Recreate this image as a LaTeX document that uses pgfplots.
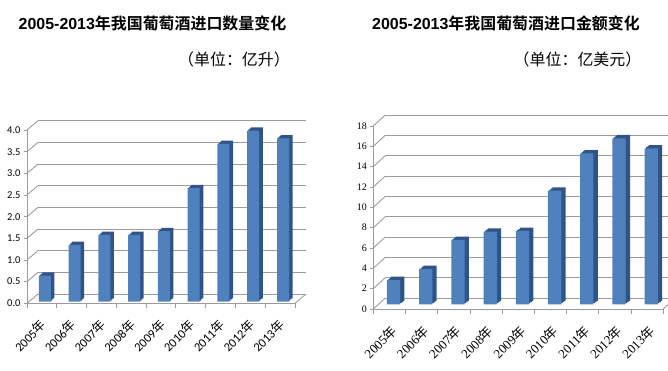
\documentclass[border=0pt]{standalone}
\usepackage{fontspec}
\usepackage{pgfplots}
\usepackage{pgfplotstable}
\pgfplotsset{compat=1.18}
\newfontfamily\cjk{Noto Sans CJK SC}[BoldFont={Noto Sans CJK SC Bold}]
\newfontfamily\arialf{Liberation Sans}
\newfontfamily\carlito{Carlito}
\newfontfamily\timesf{Liberation Serif}
\definecolor{barfront}{HTML}{4F81BD}
\definecolor{barside}{HTML}{30548A}
\definecolor{gridc}{HTML}{9C9C9C}
\newcommand{\nian}{{\cjk 年}}

\pgfplotstableread{
x v
0 0.60
1 1.31
2 1.54
3 1.54
4 1.63
5 2.62
6 3.64
7 3.95
8 3.77
}\dataL

\pgfplotstableread{
x v
0 2.39
1 3.48
2 6.33
3 7.15
4 7.21
5 11.18
6 14.85
7 16.33
8 15.34
}\dataR

\pgfplotsset{
  base/.style={anchor=south west, scale only axis, xmin=-0.5, xmax=8.5, ymin=0},
  backwall/.style={base, xtick=\empty, yticklabels={}, ymajorgrids,
    grid style={gridc, line width=0.9bp}, axis line style={draw=none}, major tick length=0pt},
  front/.style={base, clip=false, axis x line*=bottom, axis y line*=left,
    axis line style={gridc, line width=0.9bp},
    tick align=outside, major tick length=3bp, tick style={gridc, line width=0.9bp},
    xtick={0,...,8}, xtick style={draw=none},
    xticklabels={2005\nian,2006\nian,2007\nian,2008\nian,2009\nian,2010\nian,2011\nian,2012\nian,2013\nian},
    extra x ticks={-0.5,0.5,...,8.5}, extra x tick labels={,,,,,,,,,},
    extra x tick style={major tick length=5bp, xtick style={draw=gridc, line width=0.9bp}},
    /pgf/number format/assume math mode=true},
  bars/.style={base, hide axis, clip=false},
}

\begin{document}
\begin{tikzpicture}
\useasboundingbox (0,0) rectangle (668bp,371bp);
\node[font=\fontsize{16}{18}\selectfont, inner sep=0] at (152.5bp,347.5bp) {{\arialf\bfseries 2005-2013}{\cjk\bfseries 年我国葡萄酒进口数量变化}};
\node[font=\fontsize{16}{18}\selectfont\cjk, inner sep=0] at (234bp,312bp) {（单位：亿升）};
\node[font=\fontsize{16}{18}\selectfont, inner sep=0] at (506bp,347.5bp) {{\arialf\bfseries 2005-2013}{\cjk\bfseries 年我国葡萄酒进口金额变化}};
\node[font=\fontsize{16}{18}\selectfont\cjk, inner sep=0] at (577.5bp,312bp) {（单位：亿美元）};

% ---------- left chart ----------
\begin{axis}[backwall, at={(38bp,77bp)}, width=268bp, height=173.3bp, ymax=4, ytick={0,0.5,...,4}]
\addplot[draw=none] coordinates {(0,0)};
\end{axis}
\begin{axis}[front, at={(27bp,67.7bp)}, width=268bp, height=173.3bp, ymax=4, ytick={0,0.5,...,4},
  yticklabel style={font=\carlito\fontsize{10.5}{12}\selectfont, /pgf/number format/fixed,
    /pgf/number format/fixed zerofill, /pgf/number format/precision=1},
  xticklabel style={font=\carlito\fontsize{12.5}{13}\selectfont, xshift=4bp, yshift=-14bp, rotate=45, anchor=east}]
\addplot[draw=none] coordinates {(0,0)};
\pgfplotsinvokeforeach{0,0.5,...,4}{\draw[gridc,line width=0.9bp] (axis cs:-0.5,#1) -- ++(11bp,9.3bp);}
\draw[gridc,line width=0.9bp] (axis cs:8.5,0) -- ++(11bp,9.3bp);
\end{axis}
\begin{axis}[bars, at={(28.9bp,69.3bp)}, width=268bp, height=173.3bp, ymax=4]
\addplot[ybar, bar width=12bp, fill=barside, draw=none, bar shift=4.6bp, yshift=3.3bp] table[x=x,y=v]{\dataL};
\addplot[ybar, bar width=12bp, fill=barside, draw=none, bar shift=3.4bp, yshift=2.2bp] table[x=x,y=v]{\dataL};
\addplot[ybar, bar width=12bp, fill=barside, draw=none, bar shift=2.2bp, yshift=1.1bp] table[x=x,y=v]{\dataL};
\addplot[ybar, bar width=12bp, fill=barfront, draw=none, bar shift=1bp] table[x=x,y=v]{\dataL};
\end{axis}

% ---------- right chart ----------
\begin{axis}[backwall, at={(385.3bp,73bp)}, width=290bp, height=183bp, ymax=18, ytick={0,2,...,18}]
\addplot[draw=none] coordinates {(0,0)};
\end{axis}
\begin{axis}[front, at={(373.3bp,62bp)}, width=290bp, height=183bp, ymax=18, ytick={0,2,...,18},
  yticklabel style={font=\timesf\fontsize{10}{12}\selectfont},
  xticklabel style={font=\timesf\fontsize{13}{14}\selectfont, xshift=7bp, yshift=-14bp, rotate=45, anchor=east}]
\addplot[draw=none] coordinates {(0,0)};
\pgfplotsinvokeforeach{0,2,...,18}{\draw[gridc,line width=0.9bp] (axis cs:-0.5,#1) -- ++(12bp,11bp);}
\draw[gridc,line width=0.9bp] (axis cs:8.5,0) -- ++(12bp,11bp);
\end{axis}
\begin{axis}[bars, at={(378.4bp,66.7bp)}, width=290bp, height=183bp, ymax=18]
\addplot[ybar, bar width=13.3bp, fill=barside, draw=none, bar shift=3.3bp, yshift=3.3bp] table[x=x,y=v]{\dataR};
\addplot[ybar, bar width=13.3bp, fill=barside, draw=none, bar shift=1.87bp, yshift=2.2bp] table[x=x,y=v]{\dataR};
\addplot[ybar, bar width=13.3bp, fill=barside, draw=none, bar shift=0.43bp, yshift=1.1bp] table[x=x,y=v]{\dataR};
\addplot[ybar, bar width=13.3bp, fill=barfront, draw=none, bar shift=-1bp] table[x=x,y=v]{\dataR};
\end{axis}
\end{tikzpicture}
\end{document}
